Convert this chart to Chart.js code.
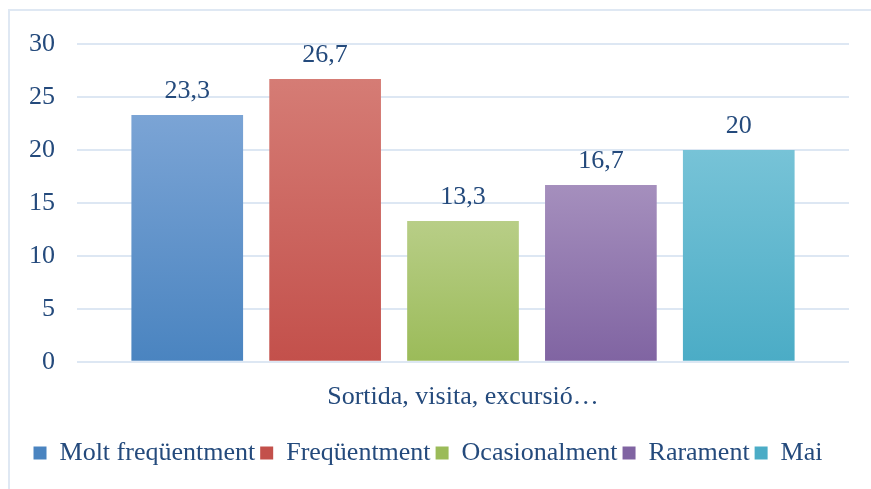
<!DOCTYPE html>
<html>
<head>
<meta charset="utf-8">
<script src="https://cdn.jsdelivr.net/npm/chart.js@4"></script>
<style>
  html, body { margin: 0; padding: 0; background: #fff; }
  #frame { position: absolute; left: 8px; top: 9px; width: 900px; height: 520px; border: 2px solid #dfe8f3; }
  #wrap { position: absolute; left: 0; top: 0; width: 871px; height: 489px; }
</style>
</head>
<body>
<div id="frame"></div>
<div id="wrap"><canvas id="chart" width="871" height="489"></canvas></div>
<script>
// categories and series
const categories = ['Sortida, visita, excursió…'];
const seriesNames = ['Molt freqüentment', 'Freqüentment', 'Ocasionalment', 'Rarament', 'Mai'];
const seriesValues = [[23.3], [26.7], [13.3], [16.7], [20]];
const yTicks = [0, 5, 10, 15, 20, 25, 30];

// top / bottom colours of each bar gradient
const topColors = ['#7ba4d5', '#d57c75', '#b8ce87', '#a58fbd', '#77c3d7'];
const bottomColors = ['#4a84c0', '#c3504b', '#9bbb59', '#8064a2', '#4bacc6'];

const textColor = '#244a7c';
const fontFamily = "'Liberation Serif', serif";
const fontSize = 26;

function barFill(i) {
    return function (ctx) {
        const chart = ctx.chart;
        if (ctx.type !== 'data' || !chart.chartArea) return bottomColors[i];
        const y = chart.scales.y;
        const top = y.getPixelForValue(ctx.parsed.y);
        const bottom = y.getPixelForValue(0);
        const g = chart.ctx.createLinearGradient(0, top, 0, bottom);
        g.addColorStop(0, topColors[i]);
        g.addColorStop(1, bottomColors[i]);
        return g;
    };
}

// values written above each bar
const valueLabels = {
    id: 'valueLabels',
    afterDatasetsDraw(chart) {
        const ctx = chart.ctx;
        ctx.save();
        ctx.font = fontSize + 'px ' + fontFamily;
        ctx.fillStyle = textColor;
        ctx.textAlign = 'center';
        ctx.textBaseline = 'bottom';
        chart.data.datasets.forEach((ds, i) => {
            chart.getDatasetMeta(i).data.forEach((bar, j) => {
                const text = String(ds.data[j]).replace('.', ',');
                ctx.fillText(text, bar.x, bar.y - 11);
            });
        });
        ctx.restore();
    }
};

new Chart(document.getElementById('chart'), {
    type: 'bar',
    data: {
        labels: categories,
        datasets: seriesNames.map((name, i) => ({
            label: name,
            data: seriesValues[i],
            backgroundColor: barFill(i),
            borderWidth: 0,
            categoryPercentage: 0.893,
            barPercentage: 0.81
        }))
    },
    options: {
        responsive: false,
        animation: false,
        devicePixelRatio: 1,
        layout: { padding: { left: 7, right: 22, top: 44, bottom: 13 } },
        plugins: {
            legend: {
                position: 'bottom',
                labels: {
                    color: textColor,
                    font: { family: fontFamily, size: fontSize },
                    boxWidth: 13,
                    boxHeight: 13,
                    padding: 5,
                    generateLabels(chart) {
                        return chart.data.datasets.map((ds, i) => ({
                            text: ds.label,
                            fillStyle: bottomColors[i],
                            strokeStyle: bottomColors[i],
                            lineWidth: 0,
                            fontColor: textColor,
                            datasetIndex: i,
                            hidden: false
                        }));
                    }
                }
            },
            tooltip: { enabled: false }
        },
        scales: {
            x: {
                grid: { display: false },
                border: { display: false },
                ticks: { color: textColor, font: { family: fontFamily, size: fontSize }, padding: 12 },
                afterFit(scale) { scale.height += 10; }
            },
            y: {
                min: 0,
                max: 30,
                afterBuildTicks(axis) { axis.ticks = yTicks.map(v => ({ value: v })); },
                grid: { color: '#dde7f3', lineWidth: 2, drawTicks: false },
                border: { display: false },
                ticks: { color: textColor, font: { family: fontFamily, size: fontSize }, padding: 22 }
            }
        }
    },
    plugins: [valueLabels]
});
</script>
</body>
</html>
